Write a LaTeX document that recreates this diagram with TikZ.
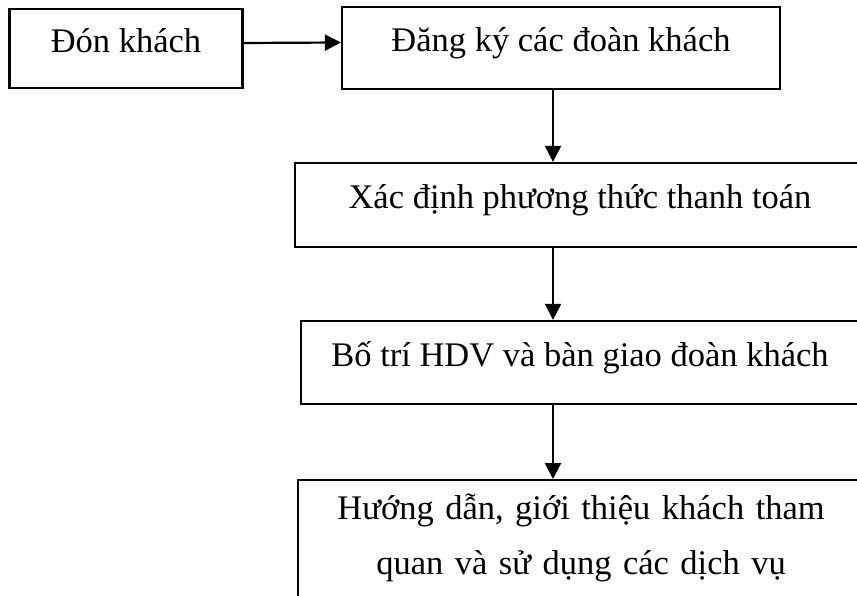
\documentclass[tikz,border=0pt]{standalone}
\usepackage{fontspec}
\setmainfont{Liberation Serif}
\usepackage{tikz}
\usetikzlibrary{positioning, arrows.meta}

\tikzset{
  procbox/.style={draw, line width=2.2pt, inner sep=0pt, text height=24pt, text depth=16pt,
                  font=\fontsize{34.5}{55}\selectfont},
  flowarrow/.style={line width=2.2pt, -{Triangle[length=16pt, width=16pt]}}
}

\begin{document}
\begin{tikzpicture}[x=1pt, y=-1pt]
      % Page frame
      \clip (0,0) rectangle (857,596);

      % Boxes
      \node[procbox, minimum width=233pt, minimum height=79pt] (don) at (126,48.5) {Đón khách};
      \node[procbox, minimum width=438pt, minimum height=82pt] (dangky) at (561,48) {Đăng ký các đoàn khách};
      \node[procbox, minimum width=570pt, minimum height=84pt] (xacdinh) at (580,205) {Xác định phương thức thanh toán};
      \node[procbox, minimum width=558pt, minimum height=83pt] (botri) at (580,362.5) {Bố trí HDV và bàn giao đoàn khách};
      \node[procbox, anchor=north west, minimum width=566pt, minimum height=160pt,
            text width=540pt, align=center, text height=26pt, text depth=108pt] (huongdan) at (297,479)
            {Hướng dẫn, giới thiệu khách tham\\quan và sử dụng các dịch vụ};

      % Connectors
      \coordinate (ax) at (553,0);
      \draw[flowarrow] ([yshift=5.5pt]don.east) -- ([yshift=5.5pt]dangky.west);
      \draw[flowarrow] (dangky.south -| ax) -- (xacdinh.north -| ax);
      \draw[flowarrow] (xacdinh.south -| ax) -- (botri.north -| ax);
      \draw[flowarrow] (botri.south -| ax) -- (huongdan.north -| ax);
    \end{tikzpicture}
\end{document}
